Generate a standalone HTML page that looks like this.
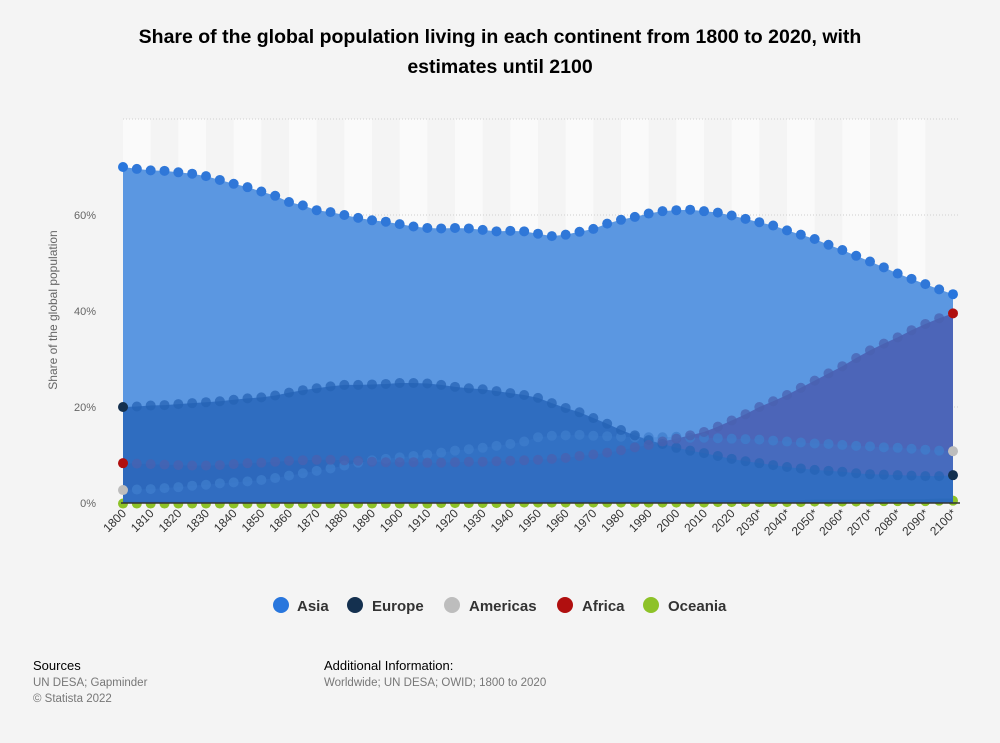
<!DOCTYPE html>
<html><head><meta charset="utf-8">
<style>
body{margin:0;background:#f4f4f4;font-family:"Liberation Sans",Arial,sans-serif;}
#wrap{position:relative;width:1000px;height:743px;overflow:hidden;background:#f4f4f4;}
</style></head>
<body>
<div id="wrap">
<svg id="chart" width="1000" height="743" xmlns="http://www.w3.org/2000/svg">
<text x="500" y="43" text-anchor="middle" font-size="19.5" font-weight="bold" fill="#000">Share of the global population living in each continent from 1800 to 2020, with</text>
<text x="500" y="73" text-anchor="middle" font-size="19.5" font-weight="bold" fill="#000">estimates until 2100</text>
<text transform="translate(57,310) rotate(-90)" text-anchor="middle" font-size="12" fill="#666">Share of the global population</text>
<g id="bands"></g><g id="grid"></g><g id="areas"></g><g id="marks"></g><g id="axis"></g><g id="xlabels"></g>
<g font-size="15" font-weight="bold" fill="#333">
 <g><circle cx="281" cy="605" r="8" fill="#2876dd"/><text x="297" y="611">Asia</text></g>
 <g><circle cx="355" cy="605" r="8" fill="#14304f"/><text x="372" y="611">Europe</text></g>
 <g><circle cx="452" cy="605" r="8" fill="#bdbdbd"/><text x="469" y="611">Americas</text></g>
 <g><circle cx="565" cy="605" r="8" fill="#b00f0f"/><text x="582" y="611">Africa</text></g>
 <g><circle cx="651" cy="605" r="8" fill="#8dc228"/><text x="668" y="611">Oceania</text></g>
</g>
<text x="33" y="670" font-size="13" fill="#000">Sources</text>
<text x="33" y="686" font-size="11.5" fill="#777">UN DESA; Gapminder</text>
<text x="33" y="702" font-size="11.5" fill="#777">© Statista 2022</text>
<text x="324" y="670" font-size="13" fill="#000">Additional Information:</text>
<text x="324" y="686" font-size="11.5" fill="#777">Worldwide; UN DESA; OWID; 1800 to 2020</text>
</svg>
</div>
<script>
const years=[];for(let y=1800;y<=2100;y+=5)years.push(y);
const asia=[70,69.6,69.3,69.2,68.9,68.6,68.1,67.3,66.5,65.8,64.9,64,62.7,62,61,60.6,60,59.4,58.9,58.6,58.1,57.6,57.3,57.2,57.3,57.2,56.9,56.6,56.7,56.6,56.1,55.6,55.9,56.5,57.1,58.2,59,59.6,60.3,60.8,61,61.1,60.8,60.5,59.9,59.2,58.5,57.8,56.8,55.9,55,53.8,52.7,51.5,50.3,49.1,47.8,46.7,45.6,44.5,43.5];
const europe=[20,20.1,20.3,20.4,20.6,20.8,21,21.2,21.5,21.8,22,22.4,23,23.5,23.9,24.3,24.6,24.6,24.7,24.8,25,25,24.9,24.6,24.2,23.9,23.7,23.3,22.9,22.5,21.9,20.8,19.8,18.9,17.7,16.5,15.2,14.1,13.1,12.3,11.5,10.9,10.4,9.8,9.2,8.7,8.3,7.9,7.5,7.2,6.9,6.7,6.5,6.2,6,5.9,5.8,5.7,5.6,5.6,5.8];
const africa=[8.3,8.2,8.1,8,7.9,7.8,7.8,7.9,8.1,8.3,8.4,8.6,8.8,8.9,9,9,8.9,8.8,8.6,8.5,8.5,8.5,8.4,8.4,8.5,8.6,8.6,8.7,8.8,8.9,9,9.2,9.4,9.8,10.1,10.5,11,11.6,12.1,12.8,13.4,14.1,14.8,15.9,17.2,18.5,20,21.2,22.5,24,25.5,27,28.5,30.2,31.8,33.2,34.5,36,37.3,38.5,39.5];
const americas=[2.7,2.8,2.9,3.1,3.3,3.6,3.8,4.1,4.3,4.5,4.8,5.2,5.7,6.2,6.7,7.2,7.8,8.4,8.9,9.2,9.5,9.8,10.1,10.5,10.9,11.2,11.5,11.9,12.3,12.8,13.7,14,14.1,14.2,14,13.9,13.8,13.7,13.7,13.7,13.8,13.6,13.6,13.5,13.4,13.3,13.2,13,12.8,12.6,12.4,12.3,12.1,11.9,11.8,11.6,11.5,11.3,11.1,10.9,10.8];
const oceania=[0.3,0.3,0.3,0.3,0.3,0.3,0.3,0.3,0.3,0.3,0.3,0.3,0.3,0.3,0.3,0.3,0.3,0.3,0.3,0.3,0.3,0.3,0.3,0.4,0.4,0.4,0.4,0.4,0.4,0.5,0.5,0.5,0.5,0.5,0.5,0.5,0.5,0.5,0.5,0.5,0.5,0.5,0.5,0.6,0.6,0.6,0.6,0.6,0.6,0.6,0.7,0.7,0.7,0.7,0.7,0.8,0.8,0.8,0.8,0.9,0.9];
const yTicks=[0,20,40,60,80];
const xLabelYears=[];for(let y=1800;y<=2100;y+=10)xLabelYears.push(y);
const NS="http://www.w3.org/2000/svg";
const X0=123,X1=953,Y0=503,PX=4.8;
const xs=y=>X0+(y-1800)/300*(X1-X0);
const ys=v=>Y0-v*PX;
function mk(tag,attrs,parent){const e=document.createElementNS(NS,tag);for(const k in attrs)e.setAttribute(k,attrs[k]);parent.appendChild(e);return e;}
const bands=document.getElementById('bands'),grid=document.getElementById('grid'),areas=document.getElementById('areas'),marks=document.getElementById('marks'),axis=document.getElementById('axis'),xl=document.getElementById('xlabels');
const step=(X1-X0)/30;
for(let i=0;i<30;i+=2){const r=mk('rect',{x:X0+i*step,y:ys(80),width:step,height:80*PX,fill:'#fafafa'},bands);

}
yTicks.forEach(t=>{
 if(t>0){const l=mk('line',{x1:X0,x2:960,y1:ys(t),y2:ys(t),stroke:'#cfcfcf','stroke-dasharray':'1,2'},grid);
 
 }
 if(t<80){const tx=mk('text',{x:96,y:ys(t)+4,'text-anchor':'end','font-size':11,fill:'#666'},grid);tx.textContent=t+'%';
 
 }
});
const series=[
 {name:'asia',d:asia,fill:'#5b97e1',op:1,dot:'#2f77d8',end:'#2876dd',line:'#2f6fc8'},
 {name:'africa',d:africa,fill:'#4a5cb0',op:0.85,dot:'#4a62b0',end:'#b00f0f',line:'#4a62b0'},
 {name:'europe',d:europe,fill:'#2a68bc',op:0.9,dot:'#2563b4',end:'#14304f',line:'#2563b4'},
 {name:'americas',d:americas,fill:'#3a7ccc',op:0.3,dot:'#3f7ecc',end:'#bdbdbd',line:'#3f7ecc'},
 {name:'oceania',d:oceania,fill:'#2b69bb',op:1,dot:'#8dc228',end:'#8dc228',line:'#8dc228'}
];
series.forEach(s=>{
 let p='M'+xs(1800)+','+Y0;years.forEach((y,i)=>p+=' L'+xs(y)+','+ys(s.d[i]));p+=' L'+xs(2100)+','+Y0+'Z';
 const a=mk('path',{d:p,fill:s.fill,'fill-opacity':s.op},areas);
 
 
});
[...series].reverse().forEach(s=>{
 years.forEach((y,i)=>{
  const last=(i===0||i===years.length-1);
  const c=mk('circle',{cx:xs(y),cy:s.name==='oceania'?ys(s.d[i])+2:ys(s.d[i]),r:5,fill:last?s.end:s.dot,'fill-opacity':last||s.name==='asia'||s.name==='oceania'?1:0.75},s.name==='oceania'?bands:marks);
  
  
 });
});
mk('line',{x1:X0-2,x2:960,y1:Y0,y2:Y0,stroke:'#333','stroke-width':1.5},axis);
xLabelYears.forEach(y=>{
 const x=xs(y);const lab=y>2020?y+'*':''+y;
 const t=mk('text',{x:x+4,y:514,'text-anchor':'end','font-size':12,fill:'#333',transform:'rotate(-45 '+(x+4)+' 514)'},xl);
 t.textContent=lab;
 
 
});
</script>
</body></html>
